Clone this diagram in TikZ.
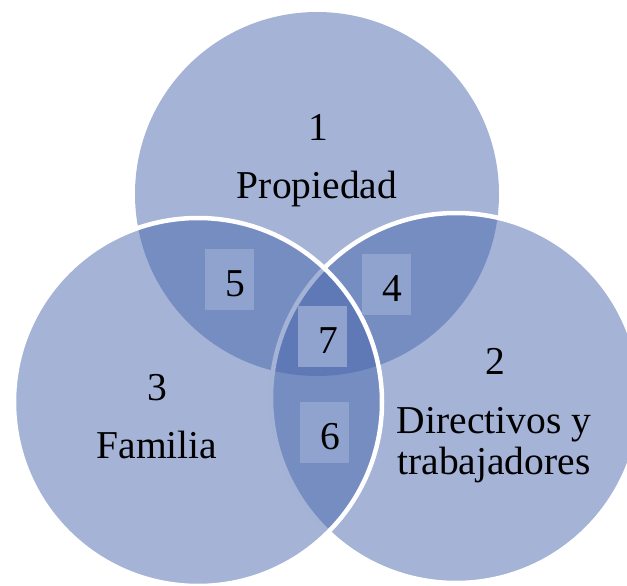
\documentclass[tikz,border=0pt]{standalone}
\usepackage{fontspec}
\setmainfont{Liberation Serif}
\usetikzlibrary{positioning}
\definecolor{vennblue}{RGB}{73,103,173}
\definecolor{tagblue}{RGB}{144,163,207}

\begin{document}
\begin{tikzpicture}[
    x = 1pt, y = -1pt,
    venn/.style = {
      circle, draw = white, line width = 4.5pt, fill = vennblue,
      fill opacity = 0.5, inner sep = 0pt, minimum size = #1
    },
    caption/.style = {
      anchor = base, align = center, inner sep = 0pt,
      font = \fontsize{39.5}{41}\selectfont
    },
    tag/.style = {
      fill = tagblue, inner xsep = 9pt, inner ysep = 0pt,
      text width = 31pt, align = right, minimum height = 61pt,
      text height = 33pt, text depth = 0pt,
      font = \fontsize{39.5}{41}\selectfont
    },
    ]
\useasboundingbox (0,0) rectangle (627,586);

% the three sets
\node  [venn = 364pt, draw = none]  (prop)  at (317,194)  {};
\node  [venn = 370pt]  (dir)  at (456,398)  {};
\node  [venn = 368pt]  (fam)  at (198,402)  {};

% names of the sets (base = last line)
\node  [caption]  (num_prop)  at (318,140)  {1};
\node  [caption]  (name_prop)  at (317,198)  {Propiedad};
\node  [caption]  (num_dir)  at (495,374)  {2};
\node  [caption]  (name_dir)  at (494,474)  {Directivos y\\trabajadores};
\node  [caption]  (num_fam)  at (157,400)  {3};
\node  [caption]  (name_fam)  at (157,458)  {Familia};

% overlaps
\node  [tag]  (tag_4)  at (386.5,284.5)  {4};
\node  [tag]  (tag_5)  at (229.5,279.5)  {5};
\node  [tag]  (tag_6)  at (324.5,432.5)  {6};
\node  [tag]  (tag_7)  at (322.5,336.5)  {7};

\end{tikzpicture}
\end{document}
